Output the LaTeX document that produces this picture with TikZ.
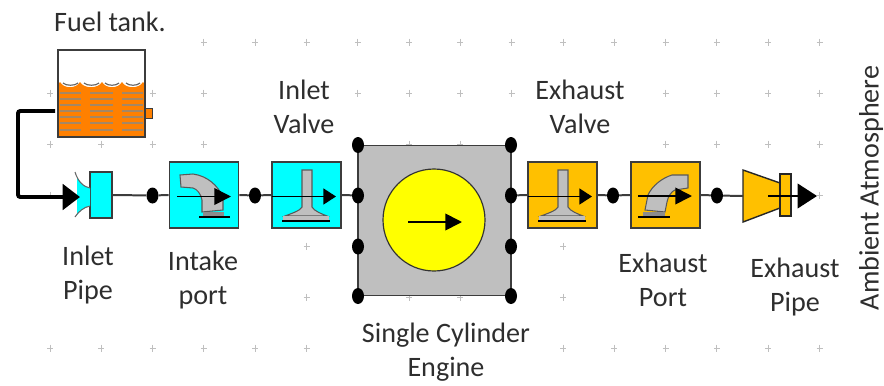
\documentclass[tikz,border=0pt]{standalone}
\usepackage{fontspec}
\setmainfont{Carlito}
\usetikzlibrary{arrows.meta,positioning,calc,shapes.geometric}
\definecolor{inletcyan}{RGB}{0,255,255}
\definecolor{exhaustamber}{RGB}{255,192,0}
\definecolor{fuelorange}{RGB}{255,128,0}
\definecolor{enginegray}{RGB}{191,191,191}
\definecolor{pistonyellow}{RGB}{255,255,0}
\definecolor{wiredark}{RGB}{60,60,60}
\definecolor{stripebrown}{RGB}{165,135,100}
\tikzset{
  flowbox/.style={
    draw=wiredark,line width=1.5pt,minimum width=2.07cm,minimum height=1.98cm,inner sep=0pt
  },
  inletbox/.style={flowbox,fill=inletcyan},
  exhaustbox/.style={flowbox,fill=exhaustamber},
  junction/.style={ellipse,fill=black,inner sep=0pt,minimum width=3.6mm,minimum height=4.8mm},
  wire/.style={draw=wiredark,line width=1.7pt},
  flowarrow/.style={-{Triangle[length=3.8mm,width=4.8mm]},line width=1.5pt,draw=black},
  portarrow/.style={-{Triangle[length=5mm,width=5mm]},line width=1.5pt,draw=black},
  fuelline/.style={-{Triangle[length=5.2mm,width=7.6mm]},line width=3.4pt,draw=black,rounded corners=2pt},
  iconbody/.style={fill=enginegray,draw=black!65,line width=.9pt},
  iconbase/.style={draw=black,line width=1.1pt},
  gridmark/.style={draw=black!25,line width=.8pt},
  caption/.style={align=center,text=black!82,inner sep=0pt,
    font=\fontsize{24}{29.4}\selectfont}
}
\begin{document}
\begin{tikzpicture}[x=0.03cm,y=-0.03cm]
  \useasboundingbox (0,0) rectangle (884,385);
  % background dots
  \foreach \row/\cols in {42/{3,4,5,6,7,8,9,10,11,12,13,14,15},
      93/{0,2,3,6,7,8,9,12,13,14,15},144/{0,1,2,3,7,8,12,13,14,15},195/{0,15},
      246/{5,10},297/{5,7,8,10},348/{0,1,2,3,4,5,10,11,12,13,14,15}}{
    \foreach \k in \cols{
      \draw[gridmark] ({50+51.3*\k-3},\row) -- ++(6,0) ({50+51.3*\k},\row-3.5) -- ++(0,7);
    }
  }
  % fuel tank
  \fill[fuelorange] (59,136) -- (59,83) -- (60,82)
    .. controls (64,89) and (76,89) .. (80,82)
    .. controls (84,89) and (98,89) .. (102,82)
    .. controls (106,89) and (118,89) .. (122,82)
    .. controls (126,89) and (139,89) .. (143,82) -- (144,83) -- (144,136) -- cycle;
  \foreach \a/\b in {63/78,84/99,105/119,126/140}{
    \draw[draw=black!60,line width=1pt] (\a,83) .. controls (\a+3,86) and (\b-3,86) .. (\b,83);
  }
  \foreach \y in {93,99,105,111,117,123,130}{
    \foreach \a/\b in {57/59,60/81,90/113,122/143,144/146}{
      \draw[white,line width=2.3pt] (\a,\y) -- (\b,\y);
      \draw[stripebrown,line width=1.5pt] (\a,\y) -- (\b,\y);
    }
  }
  \node[draw=wiredark,line width=1.3pt,minimum width=2.6cm,minimum height=2.6cm,inner sep=0pt] (fueltank) at (101.5,93.5) {};
  \node[draw=wiredark,fill=fuelorange,line width=1pt,minimum width=2.3mm,minimum height=3.2mm,inner sep=0pt] (tankport) at (149,113.5) {};
  % inlet pipe
  \node[draw=wiredark,fill=inletcyan,line width=1.2pt,minimum width=6.6mm,minimum height=1.38cm,inner sep=0pt] (inletpipe) at (101,195) {};
  \fill[inletcyan] (77,177) .. controls (80,184) and (85,187) .. (90,188) -- (90,206)
    .. controls (85,207) and (80,210) .. (77,215) -- cycle;
  \draw[draw=black!60,line width=.9pt] (75,172) .. controls (78,182) and (84,187) .. (90,188)
    (90,206) .. controls (84,207) and (78,212) .. (75,217);
  % blocks
  \node[inletbox] (intakeport) at (204,195) {};
  \node[inletbox] (inletvalve) at (306.5,195) {};
  \node[exhaustbox] (exhaustvalve) at (562.5,195) {};
  \node[exhaustbox] (exhaustport) at (665.5,195) {};
  \node[draw=wiredark,fill=enginegray,line width=1.5pt,minimum width=4.59cm,minimum height=4.5cm,inner sep=0pt] (engine) at (434.5,220.5) {};
  \node[circle,draw=black!80,fill=pistonyellow,line width=1pt,minimum size=3.06cm,inner sep=0pt] (piston) at (434,220) {};
  % exhaust pipe
  \draw[draw=black!85,fill=exhaustamber,line width=1.2pt] (743,170) -- (780,183) -- (780,208) -- (743,222) -- cycle;
  \node[draw=black!85,fill=exhaustamber,line width=1.2pt,minimum width=3.3mm,minimum height=1.26cm,inner sep=0pt] (exhaustpipe) at (785.5,195) {};
  % valve and port icons
  \foreach \dx in {0,256}{
    \begin{scope}[xshift=\dx*0.03cm]
      \draw[iconbody] (302,170) -- (312,170) -- (312,207) .. controls (314,211) and (322,214) .. (327,216)
        -- (285,216) .. controls (290,214) and (300,211) .. (302,207) -- cycle;
      \fill[enginegray] (283,216) rectangle (329,220);
      \draw[iconbase] (282,221) -- (330,221);
    \end{scope}
  }
  \draw[iconbody] (180,175) -- (193,174) .. controls (208,176) and (218,186) .. (223,197) -- (223,210)
    -- (202,212) -- (202,200) .. controls (201,194) and (197,189) .. (193,188) -- (181,187) -- cycle;
  \fill[black!45] (203,212) rectangle (224,216);
  \draw[iconbase] (199,217) -- (230,217);
  \draw[iconbody] (688,175) -- (672,175) .. controls (662,178) and (652,186) .. (648,195) -- (645,210)
    -- (665,212) -- (667,202) .. controls (668,196) and (672,191) .. (675,190) -- (688,188) -- cycle;
  \fill[black!45] (643,212) rectangle (665,216);
  \draw[iconbase] (638,217) -- (670,217);
  % junctions
  \node[junction] (dotintake) at (152.5,195.5) {};
  \node[junction] (dotvalve) at (255,195.5) {};
  \node[junction] (dotexhaust) at (613,195.5) {};
  \node[junction] (dotpipe) at (717,195.5) {};
  \foreach \y/\n in {145/1,195.5/2,246.5/3,296/4}{
    \node[junction] (engl\n) at (358,\y) {};
    \node[junction] (engr\n) at (511,\y) {};
  }
  % flow end points
  \coordinate (tankout) at (55,111);
  \coordinate (fuelbend) at (18,197);
  \coordinate (fuelin) at (80,197);
  \coordinate (conein) at (743,196);
  \coordinate (pipeout) at (817,196);
  \coordinate (pipeinner) at (768,196);
  \coordinate (intakea) at (177,196.5);
  \coordinate (intakeb) at (231,196.5);
  \coordinate (inleta) at (272,196.5);
  \coordinate (inletb) at (336,196.5);
  \coordinate (exvalvea) at (528,196.5);
  \coordinate (exvalveb) at (592,196.5);
  \coordinate (exporta) at (638,196);
  \coordinate (exportb) at (692,196);
  \coordinate (pistona) at (408,222);
  \coordinate (pistonb) at (462,222);
  % connectors
  \draw[wire] (inletpipe.east) -- (dotintake);
  \draw[wire] (dotintake) -- (intakeport.west);
  \draw[wire] (intakeport.east) -- (dotvalve);
  \draw[wire] (dotvalve) -- (inletvalve.west);
  \draw[wire] (inletvalve.east) -- (engl2);
  \draw[wire] (engr2) -- (exhaustvalve.west);
  \draw[wire] (exhaustvalve.east) -- (dotexhaust);
  \draw[wire] (dotexhaust) -- (exhaustport.west);
  \draw[wire] (exhaustport.east) -- (dotpipe);
  \draw[wire] (dotpipe) -- (conein);
  \draw[fuelline] (tankout) -| (fuelbend) -- (fuelin);
  \draw[portarrow] (intakea) -- (intakeb);
  \draw[flowarrow] (inleta) -- (inletb);
  \draw[flowarrow] (exvalvea) -- (exvalveb);
  \draw[portarrow] (exporta) -- (exportb);
  \draw[portarrow] (pistona) -- (pistonb);
  \draw[-{Triangle[length=5.8mm,width=7.4mm]},line width=1.4pt,draw=black] (pipeinner) -- (pipeout);
  % labels
  \node[caption] (fuellabel) at (110,22) {Fuel tank.};
  \node[caption] (inletvalvelabel) at (304,107) {Inlet\\Valve};
  \node[caption] (exvalvelabel) at (580,107) {Exhaust\\Valve};
  \node[caption] (inletpipelabel) at (88,275) {Inlet\\Pipe};
  \node[caption] (intakelabel) at (203,280) {Intake\\port};
  \node[caption] (enginelabel) at (446,352) {Single Cylinder\\Engine};
  \node[caption] (exportlabel) at (663,280) {Exhaust\\Port};
  \node[caption] (expipelabel) at (795,287) {Exhaust\\Pipe};
  \node[caption,rotate=90] (ambientlabel) at (871,188) {Ambient Atmosphere};
\end{tikzpicture}
\end{document}
